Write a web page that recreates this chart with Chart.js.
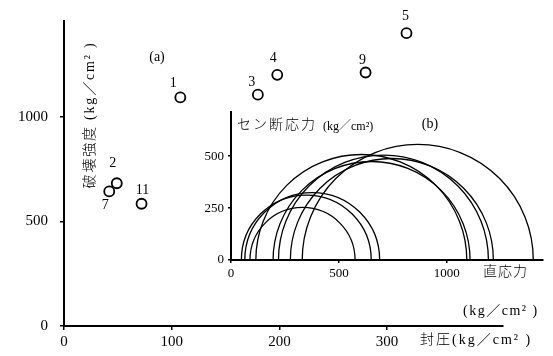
<!DOCTYPE html>
<html>
<head>
<meta charset="utf-8">
<script src="https://cdn.jsdelivr.net/npm/chart.js@4"></script>
<style>
  body { margin: 0; background: #fff; }
  #wrap { position: relative; width: 553px; height: 356px; }
  #mainChart { position: absolute; left: 0; top: 0; }
  #insetChart { position: absolute; left: 190px; top: 100px; }
</style>
</head>
<body>
<div id="wrap">
  <canvas id="mainChart" width="553" height="356"></canvas>
  <canvas id="insetChart" width="363" height="190"></canvas>
</div>
<script>
// --- (a) 封圧と破壊強度 ---
const pointLabels = ['1', '2', '3', '4', '5', '7', '9', '11'];
const confiningPressure = [108, 49, 180, 198, 318, 42, 280, 72];
const strength = [1092, 682, 1105, 1200, 1399, 643, 1211, 584];
const xTicksA = [0, 100, 200, 300];
const yTicksA = [0, 500, 1000];

// --- (b) モールの応力円 ---
const sigma3 = [48, 64, 88, 115, 195, 220, 275, 330];
const sigma1 = [650, 689, 575, 1093, 1108, 1193, 1216, 1401];
const xTicksB = [0, 500, 1000];
const yTicksB = [0, 250, 500];

// ラベル位置（点からのずれ）
const labelOffsets = [[-7, -14], [-4, -20], [-6, -12], [-4, -16], [-1, -17], [-4, 14], [-3, -12], [1, -13]];

const serif = "'Liberation Serif', 'Noto Sans CJK JP', serif";
const jp = "'Liberation Serif', 'Noto Sans CJK JP', sans-serif";

function fixTicks(values) {
    return scale => { scale.ticks = values.map(v => ({ value: v })); };
}

function axisStyle(min, max, ticks, fontSize, tickLen, pad) {
    return {
        type: 'linear', min: min, max: max,
        afterBuildTicks: fixTicks(ticks),
        ticks: {
            color: '#000', font: { family: serif, size: fontSize }, padding: pad, maxRotation: 0,
            callback: v => String(v)
        },
        grid: { drawOnChartArea: false, drawTicks: true, tickLength: tickLen, color: '#000', lineWidth: 1.5 },
        border: { display: true, color: '#000', width: 2 }
    };
}

function text(ctx, str, x, y, font, align, spacing) {
    ctx.save();
    ctx.font = font;
    ctx.fillStyle = '#000';
    ctx.textAlign = align || 'left';
    ctx.textBaseline = 'middle';
    ctx.letterSpacing = spacing || '0px';
    ctx.fillText(str, x, y);
    ctx.restore();
}

// --- メイン図の文字 ---
const mainText = {
    id: 'mainText',
    afterDatasetsDraw(chart) {
        const ctx = chart.ctx;
        const meta = chart.getDatasetMeta(0);
        meta.data.forEach((pt, i) => {
            text(ctx, pointLabels[i], pt.x + labelOffsets[i][0], pt.y + labelOffsets[i][1], '14px ' + serif, 'center');
        });
        text(ctx, '(a)', 157, 57, '14px ' + serif, 'center');
        text(ctx, '封圧(kg／cm² )', 420, 340, '300 14px ' + jp, 'left', '2px');
        text(ctx, '(kg／cm² )', 463, 311, '300 14px ' + jp, 'left', '1.5px');

        ctx.save();
        ctx.translate(90, 115);
        ctx.rotate(-Math.PI / 2);
        text(ctx, '破壊強度 (kg／cm² )', 0, 0, '300 14px ' + jp, 'center', '1.8px');
        ctx.restore();
    }
};

new Chart(document.getElementById('mainChart'), {
    type: 'scatter',
    data: {
        datasets: [{
            data: confiningPressure.map((x, i) => ({ x: x, y: strength[i] })),
            pointRadius: 5,
            pointBorderWidth: 1.8,
            borderColor: '#000',
            backgroundColor: 'rgba(255,255,255,0)'
        }]
    },
    options: {
        responsive: false,
        animation: false,
        layout: { padding: { left: 0, top: 20, right: 50, bottom: 0 } },
        plugins: { legend: { display: false }, tooltip: { enabled: false } },
        scales: {
            x: Object.assign(axisStyle(0, 407.6, xTicksA, 15, 4, 3), { afterFit: s => { s.height = 30; } }),
            y: Object.assign(axisStyle(0, 1457, yTicksA, 15, 4, 12), { afterFit: s => { s.width = 64; } })
        }
    },
    plugins: [mainText]
});

// --- 挿入図: 応力円 ---
const mohrCircles = {
    id: 'mohrCircles',
    afterDatasetsDraw(chart) {
        const ctx = chart.ctx;
        const xs = chart.scales.x;
        const ys = chart.scales.y;
        const y0 = ys.getPixelForValue(0);
        ctx.save();
        ctx.strokeStyle = '#000';
        ctx.lineWidth = 1.3;
        sigma3.forEach((s3, i) => {
            const left = xs.getPixelForValue(s3);
            const right = xs.getPixelForValue(sigma1[i]);
            ctx.beginPath();
            ctx.arc((left + right) / 2, y0, (right - left) / 2, Math.PI, 2 * Math.PI);
            ctx.stroke();
        });
        ctx.restore();

        text(ctx, 'セン断応力', 47, 25, '300 14px ' + jp, 'left', '2px');
        text(ctx, '(kg／cm²)', 133, 27, '300 12px ' + jp, 'left');
        text(ctx, '(b)', 240, 24, '14px ' + serif, 'center');
        text(ctx, '直応力', 293, 172, '300 14px ' + jp, 'left', '1px');
    }
};

new Chart(document.getElementById('insetChart'), {
    type: 'scatter',
    data: { datasets: [{ data: [] }] },
    options: {
        responsive: false,
        animation: false,
        layout: { padding: { left: 0, top: 10, right: 10, bottom: 0 } },
        plugins: { legend: { display: false }, tooltip: { enabled: false } },
        scales: {
            x: Object.assign(axisStyle(0, 1446, xTicksB, 13, 3, 3), { afterFit: s => { s.height = 30; } }),
            y: Object.assign(axisStyle(0, 714, yTicksB, 13, 3, 4), { afterFit: s => { s.width = 41; } })
        }
    },
    plugins: [mohrCircles]
});
</script>
</body>
</html>
